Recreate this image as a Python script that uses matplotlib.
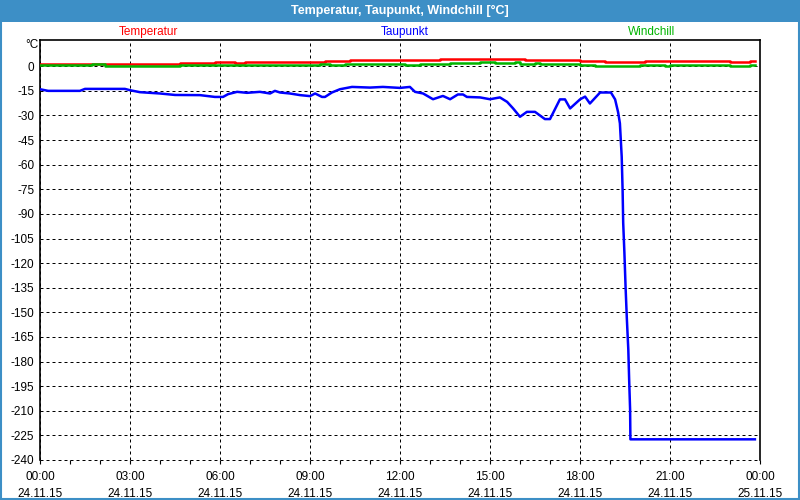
import matplotlib
matplotlib.use("Agg")
import matplotlib.pyplot as plt
from matplotlib.patches import Rectangle
from matplotlib.ticker import MultipleLocator

plt.rcParams["font.family"] = ["Liberation Sans", "DejaVu Sans"]

# hours since 24.11.15 00:00
temp_h = [0.0, 4.67, 5.83, 6.5, 6.83, 9.5, 9.83, 10.33, 13.33, 16.17, 18.0, 18.83, 20.17, 23.0, 23.67, 23.83]
temp_v = [1.6, 2.0, 2.6, 2.0, 2.6, 3.5, 3.0, 3.6, 4.3, 3.6, 3.2, 2.4, 2.9, 2.4, 3.0, 3.0]

wind_h = [0.0, 1.73, 2.17, 4.67, 9.33, 9.67, 10.17, 12.17, 12.67, 13.67, 14.67, 15.17, 15.83, 16.0,
          16.5, 16.67, 18.0, 18.5, 18.83, 20.0, 20.83, 21.0, 23.0, 23.67, 23.83]
wind_v = [0.8, 1.4, 0.4, 1.0, 1.2, 0.8, 1.4, 0.8, 1.2, 2.0, 2.6, 2.0, 2.4, 1.4,
          1.8, 1.2, 0.8, 0.4, 0.2, 0.6, 0.2, 0.6, 0.2, 0.8, 0.8]

dew_h = [0.0, 0.27, 1.33, 1.5, 2.83, 3.0, 3.33, 4.0, 4.5, 5.33, 5.83, 6.1, 6.27, 6.57, 6.9, 7.33,
         7.67, 7.83, 8.0, 8.33, 8.67, 9.0, 9.17, 9.4, 9.5, 9.73, 10.0, 10.4, 11.0, 11.43, 12.0,
         12.33, 12.5, 12.77, 13.1, 13.43, 13.67, 13.93, 14.1, 14.23, 14.67, 15.0, 15.33, 15.57,
         15.77, 16.0, 16.23, 16.5, 16.83, 17.0, 17.33, 17.5, 17.67, 18.0, 18.17, 18.33, 18.67,
         19.03, 19.17, 19.27, 19.33, 19.39, 19.42, 19.44, 19.48, 19.52, 19.56, 19.61, 19.64,
         19.67, 19.68, 23.83]
dew_v = [-14.0, -15.0, -15.0, -13.8, -13.8, -14.6, -15.8, -16.6, -17.5, -17.6, -18.7, -18.7, -17.0,
         -15.6, -16.2, -15.6, -16.6, -15.0, -16.0, -16.6, -17.6, -18.2, -16.6, -18.7, -18.7, -16.0,
         -14.0, -12.6, -13.0, -12.6, -13.2, -12.6, -15.6, -16.6, -20.1, -18.1, -20.1, -17.2, -17.2,
         -18.7, -19.0, -20.1, -19.0, -21.7, -25.7, -30.8, -27.8, -27.8, -32.2, -32.2, -20.2, -20.2,
         -25.7, -20.2, -18.5, -22.7, -16.0, -16.0, -20.2, -28.0, -34.8, -55.1, -75.4, -95.5, -113.7,
         -135.0, -153.2, -172.6, -192.0, -209.2, -227.4, -227.4]

x_ticks = [0, 3, 6, 9, 12, 15, 18, 21, 24]
x_labels = ["00:00\n24.11.15", "03:00\n24.11.15", "06:00\n24.11.15", "09:00\n24.11.15",
            "12:00\n24.11.15", "15:00\n24.11.15", "18:00\n24.11.15", "21:00\n24.11.15",
            "00:00\n25.11.15"]
y_ticks = list(range(0, -241, -15))

frame_blue = "#3d8fc6"

fig = plt.figure(figsize=(8, 5), dpi=100, facecolor="white")
ax = fig.add_axes([0.05, 0.08, 0.90, 0.84])

ax.plot(temp_h, temp_v, color="#ff0000", lw=1.8, drawstyle="steps-post", zorder=3)
ax.plot(wind_h, wind_v, color="#00b400", lw=1.8, drawstyle="steps-post", zorder=3)
ax.plot(dew_h, dew_v, color="#0000ff", lw=1.8, zorder=4)

ax.set_xlim(0, 24)
ax.set_ylim(-240, 16)
ax.set_xticks(x_ticks)
ax.set_xticklabels(x_labels, fontsize=8.5, linespacing=1.55)
ax.xaxis.set_minor_locator(MultipleLocator(1))
ax.set_yticks(y_ticks)
ax.set_yticklabels([str(v) for v in y_ticks], fontsize=8.5)
ax.tick_params(axis="y", length=0, pad=4)
ax.tick_params(axis="x", which="both", direction="out", length=3, width=0.8, pad=5)

ax.grid(True, color="black", lw=0.72, linestyle=(0, (3, 3)))
ax.spines["bottom"].set_visible(False)
for s in ["left", "right", "top"]:
    ax.spines[s].set_linewidth(1.2)
ax.axhline(-240, color="black", lw=0.72, linestyle=(0, (3, 3)), clip_on=False)

# header and labels
fig.patches.append(Rectangle((0, 1 - 22 / 500), 1, 22 / 500, transform=fig.transFigure,
                             facecolor=frame_blue, edgecolor="none"))
fig.text(0.5, 1 - 11 / 500, "Temperatur, Taupunkt, Windchill [°C]", color="white",
         fontsize=9, fontweight="bold", ha="center", va="center")
fig.text(148 / 800, 1 - 32 / 500, "Temperatur", color="#ff0000", fontsize=8.5, ha="center", va="center")
fig.text(405 / 800, 1 - 32 / 500, "Taupunkt", color="#0000ff", fontsize=8.5, ha="center", va="center")
fig.text(652 / 800, 1 - 32 / 500, "Windchill", color="#00b400", fontsize=8.5, ha="center", va="center")
fig.text(38 / 800, 1 - 45 / 500, "°C", color="black", fontsize=8.5, ha="right", va="center")

fig.patches.append(Rectangle((0.001, 0.002), 0.998, 0.997, transform=fig.transFigure,
                             facecolor="none", edgecolor=frame_blue, lw=1.5))

fig.savefig("out.png", dpi=100, facecolor=fig.get_facecolor())
